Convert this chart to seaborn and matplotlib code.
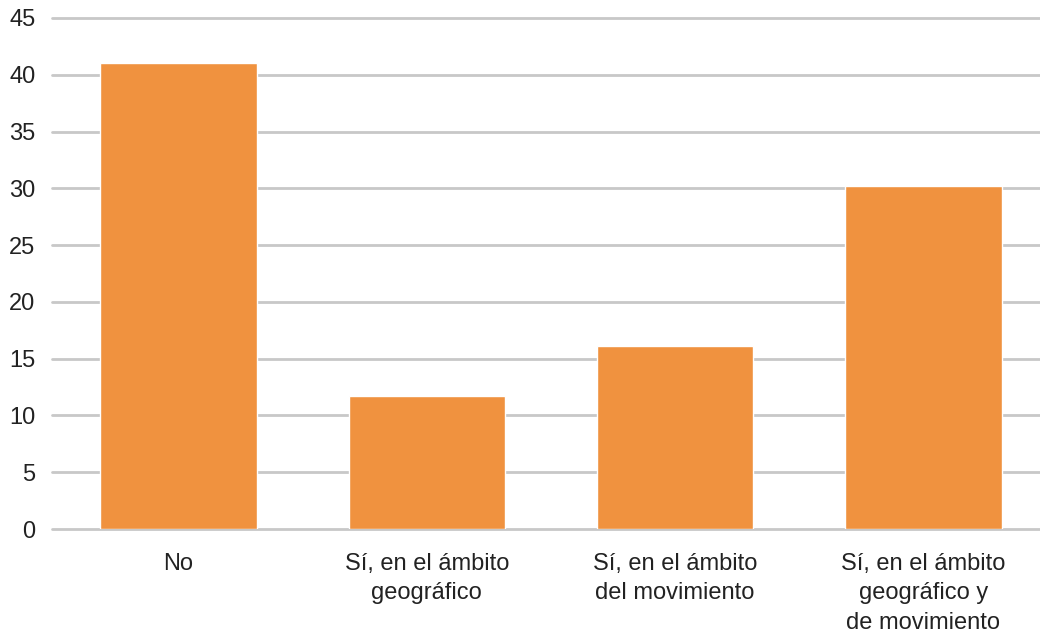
import pandas as pd
import matplotlib.pyplot as plt
import seaborn as sns

categorias = ['No', 'Sí, en el ámbito\ngeográfico', 'Sí, en el ámbito\ndel movimiento',
              'Sí, en el ámbito\ngeográfico y\nde movimiento']
valores = [41.0, 11.7, 16.1, 30.2]
yticks = [0, 5, 10, 15, 20, 25, 30, 35, 40, 45]

sns.set_style('white')
plt.rcParams['font.family'] = ['Liberation Sans', 'DejaVu Sans']

df = pd.DataFrame({'cat': categorias, 'val': valores})

fig = plt.figure(figsize=(10.4, 6.4), dpi=100)
ax = fig.add_axes([0.05, 0.1734, 0.95, 0.7985])
sns.barplot(data=df, x='cat', y='val', color='#F0923F', saturation=1, width=0.63, ax=ax, zorder=3)

ax.set_ylim(0, 45)
ax.set_xlim(-0.51, 3.47)
ax.set_yticks(yticks)
ax.yaxis.grid(True, color='#C8C8C8', linewidth=2.0, zorder=0)
for g in ax.yaxis.get_gridlines():
    g.set_clip_on(False)
ax.set_axisbelow(True)
for s in ax.spines.values():
    s.set_visible(False)
ax.tick_params(axis='both', length=0, labelsize=17, colors='#222222')
ax.tick_params(axis='y', pad=12)
ax.tick_params(axis='x', pad=17)
for lbl in ax.get_xticklabels():
    lbl.set_linespacing(1.45)
ax.set_xlabel('')
ax.set_ylabel('')

fig.savefig('out.png', dpi=100)
